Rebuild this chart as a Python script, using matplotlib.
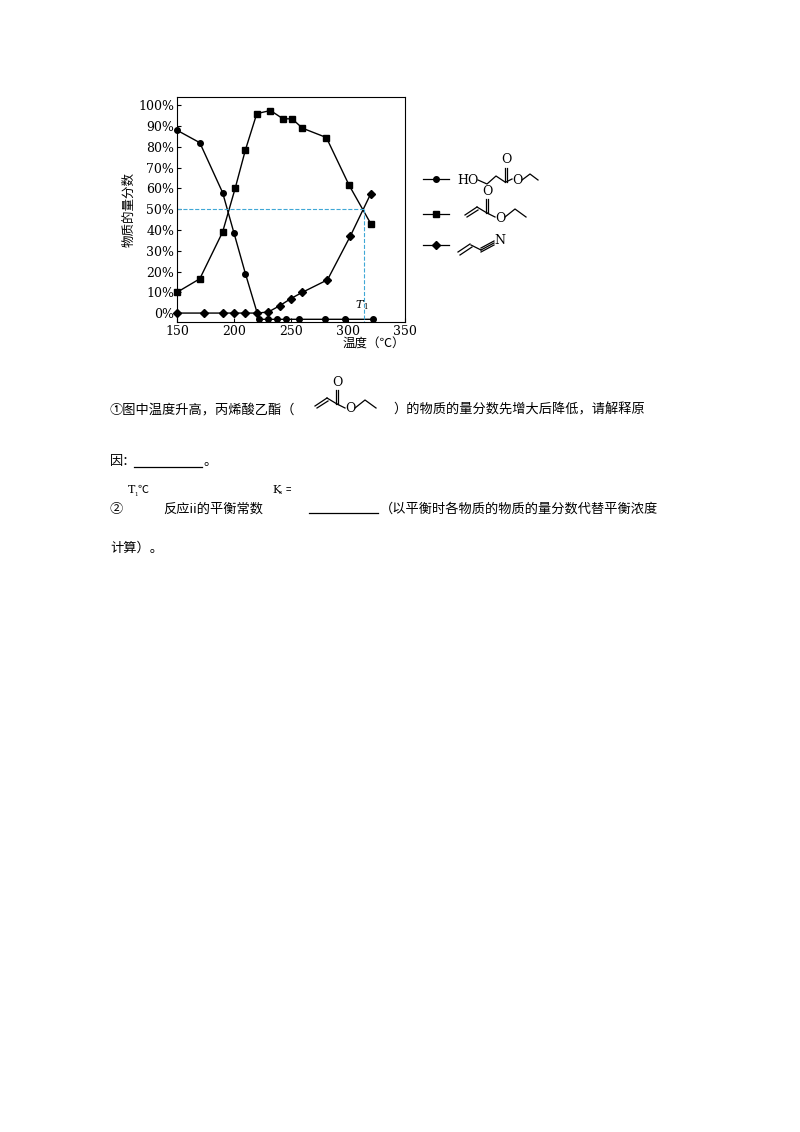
import matplotlib
matplotlib.use("Agg")
import matplotlib.pyplot as plt
from matplotlib.ticker import FixedLocator

plt.rcParams['font.family'] = ['Noto Sans CJK SC', 'DejaVu Sans']

# data
hp_x = [150, 170, 190, 200, 210, 222, 230, 238, 246, 257, 280, 297, 322]
hp_y = [88, 82, 58, 38.5, 19, -3, -3, -3, -3, -3, -3, -3, -3]
ea_x = [150, 170, 190, 201, 210, 220, 232, 243, 251, 260, 281, 301, 320]
ea_y = [10, 16.5, 39, 60, 78.5, 96, 97.5, 93.5, 93.5, 89, 84.5, 61.5, 43]
an_x = [150, 174, 190, 200, 210, 220, 230, 240, 250, 260, 282, 302, 320]
an_y = [0, 0, 0, 0, 0, 0, 0.5, 3.5, 7, 10, 16, 37, 57.5]
xticks = [150, 200, 250, 300, 350]
yticks = [0, 10, 20, 30, 40, 50, 60, 70, 80, 90, 100]
T1 = 314

fig = plt.figure(figsize=(8, 11.32), dpi=100)
ax = fig.add_axes([177/800, 1-322/1132, 228/800, 225/1132])
ax.set_xlim(150, 350)
ax.set_ylim(-4.3, 104)
kw = dict(color='black', lw=1)
ax.plot(hp_x, hp_y, marker='o', ms=4, **kw, clip_on=False)
ax.plot(ea_x, ea_y, marker='s', ms=5, **kw, clip_on=False)
ax.plot(an_x, an_y, marker='D', ms=4, **kw, clip_on=False)
ax.plot([150, T1], [50, 50], ls='--', color='#3fa7d6', lw=0.8)
ax.plot([T1, T1], [50, -4.3], ls='--', color='#3fa7d6', lw=0.8)
ax.text(T1-1, 1.5, 'T', fontstyle='italic', family='DejaVu Serif', fontsize=8, ha='right', va='bottom')
ax.text(T1-1, 1.0, '1', family='DejaVu Serif', fontsize=5, ha='left', va='bottom')
ax.xaxis.set_major_locator(FixedLocator(xticks))
ax.yaxis.set_major_locator(FixedLocator(yticks))
ax.set_xticklabels([str(v) for v in xticks], family='DejaVu Serif', fontsize=9)
ax.set_yticklabels([f'{v}%' for v in yticks], family='DejaVu Serif', fontsize=9)
ax.tick_params(direction='in', length=3, pad=2)
ax.set_ylabel('物质的量分数', fontsize=9, labelpad=2)
ax.set_xlabel('温度（℃）', fontsize=9, labelpad=0, loc='right')

# overlay in pixel coordinates
ov = fig.add_axes([0, 0, 1, 1])
ov.set_xlim(0, 800); ov.set_ylim(1132, 0); ov.axis('off')
L = dict(color='black', lw=0.9)
def seg(pts, **k):
    ov.plot([p[0] for p in pts], [p[1] for p in pts], **{**L, **k})
# legend rows
for y, m, ms in [(179, 'o', 4), (214, 's', 5), (245, 'D', 4)]:
    ov.plot([423, 449], [y, y], **L)
    ov.plot([436], [y], marker=m, ms=ms, color='black')
# row1: HO-CH2CH2-C(=O)-O-Et
ov.text(457, 180, 'HO', family='DejaVu Serif', fontsize=9, va='center')
seg([(478, 180), (487, 184), (496, 176), (505, 182)])
seg([(505, 182), (505, 168)]); seg([(507, 182), (507, 168)])
ov.text(506, 166, 'O', family='DejaVu Serif', fontsize=9, ha='center', va='bottom')
seg([(506, 182), (512, 179)])
ov.text(517, 181, 'O', family='DejaVu Serif', fontsize=9, ha='center', va='center')
seg([(522, 180), (530, 174), (538, 180)])
# row2: ethyl acrylate
def acrylate(x0, y0):
    seg([(x0, y0+8), (x0+12, y0)]); seg([(x0+2, y0+10), (x0+13, y0+3)])
    seg([(x0+12, y0), (x0+22, y0+6)])
    seg([(x0+21, y0+6), (x0+21, y0-8)]); seg([(x0+23, y0+6), (x0+23, y0-8)])
    ov.text(x0+22, y0-9, 'O', family='DejaVu Serif', fontsize=9, ha='center', va='bottom')
    seg([(x0+22, y0+6), (x0+30, y0+10)])
    ov.text(x0+35, y0+11, 'O', family='DejaVu Serif', fontsize=9, ha='center', va='center')
    seg([(x0+40, y0+10), (x0+50, y0+2), (x0+61, y0+10)])
acrylate(465, 207)
# row3: acrylonitrile
seg([(458, 252), (470, 244)]); seg([(460, 255), (472, 247)])
seg([(471, 245), (481, 250)])
for d in (-2, 0, 2):
    seg([(481, 250+d), (494, 243+d)])
ov.text(500, 241, 'N', family='DejaVu Serif', fontsize=9, ha='center', va='center')

# question text
fs = 9.5
ov.text(110, 410, '①图中温度升高，丙烯酸乙酯（', fontsize=fs, va='center')
acrylate(315, 398)
ov.text(393, 410, '）的物质的量分数先增大后降低，请解释原', fontsize=fs, va='center')
ov.text(110, 462, '因：', fontsize=fs, va='center')
seg([(134, 467), (202, 467)])
ov.text(203, 462, '。', fontsize=fs, va='center')
ov.text(110, 509, '②', fontsize=fs, va='center')
ov.text(128, 490, 'T', family='DejaVu Serif', fontsize=8, va='center')
ov.text(134, 494, '1', family='DejaVu Serif', fontsize=4, va='center')
ov.text(137, 490, '℃', fontsize=8, va='center')
ov.text(163, 509, '反应ii的平衡常数', fontsize=fs, va='center')
ov.text(272, 490, 'K', family='DejaVu Serif', fontsize=8, va='center')
ov.text(279, 493, 'x', family='DejaVu Serif', fontsize=4, va='center')
ov.text(286, 489, '=', fontsize=7, va='center')
seg([(309, 513), (378, 513)])
ov.text(380, 509, '（以平衡时各物质的物质的量分数代替平衡浓度', fontsize=fs, va='center')
ov.text(110, 548, '计算）。', fontsize=fs, va='center')

fig.savefig('out.png', dpi=100)
